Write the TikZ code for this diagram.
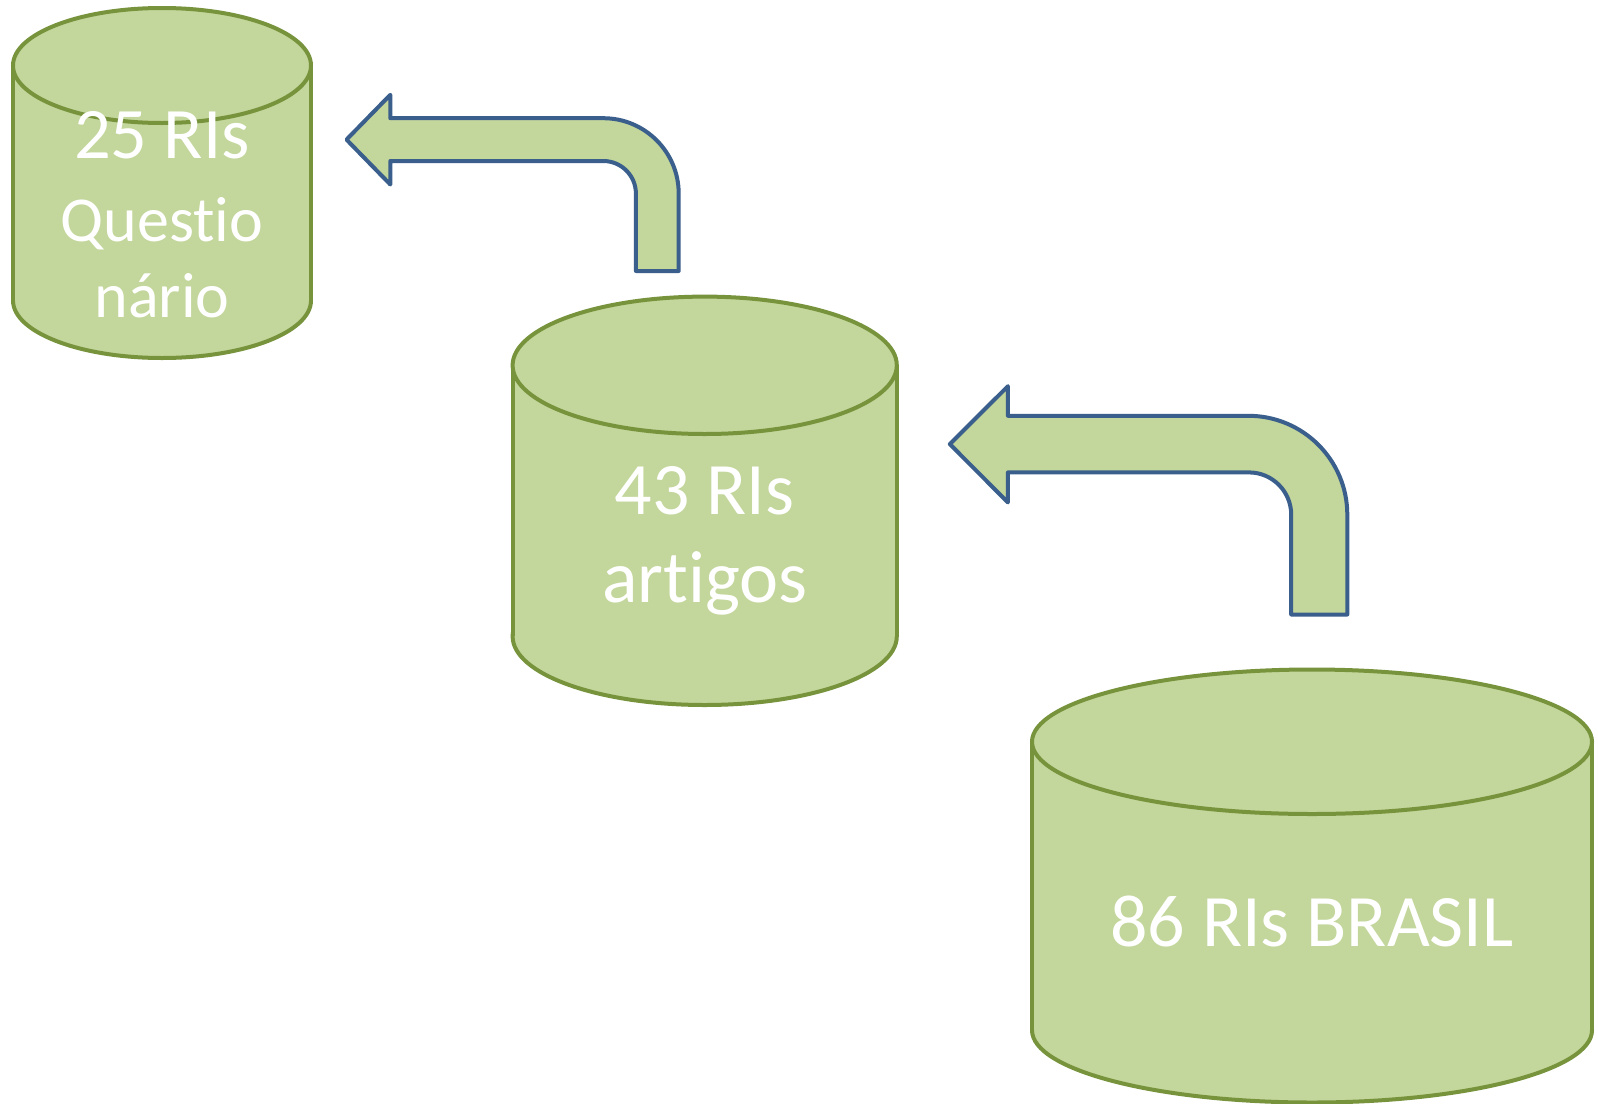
\documentclass[tikz,border=0pt]{standalone}
\usepackage{fontspec}
\setmainfont{Carlito}[Ligatures=NoCommon]
\definecolor{cylfill}{HTML}{C3D69B}
\definecolor{cylline}{HTML}{77933C}
\definecolor{arrline}{HTML}{3A5F8C}
\begin{document}
\begin{tikzpicture}[x=1pt,y=-1pt,
  cylbody/.style={fill=cylfill,draw=cylline,line width=4pt},
  cylfillonly/.style={fill=cylfill},
  cylside/.style={draw=cylline,line width=4pt},
  bendarrow/.style={fill=cylfill,draw=arrline,line width=4pt,line join=round},
  lbl/.style={text=white,anchor=base,inner sep=0pt,font=\fontsize{74}{74}\selectfont},
  lblsmall/.style={text=white,anchor=base,inner sep=0pt,font=\fontsize{72.5}{72.5}\selectfont},
  lblsmaller/.style={text=white,anchor=base,inner sep=0pt,font=\fontsize{64}{64}\selectfont}]
\useasboundingbox (0,0) rectangle (1598,1103);
\fill[white] (0,0) rectangle (1598,1103);

% Cylinder 1: cx 162, rx 149, cy 65.5, ry 57.5, by 300.5
\path[cylbody] (162,300.5) ellipse [x radius=149pt, y radius=57.5pt];
\path[cylfillonly] (13,65.5) rectangle (311,300.5);
\path[cylside] (13,65.5) -- (13,300.5) (311,65.5) -- (311,300.5);
\path[cylbody] (162,65.5) ellipse [x radius=149pt, y radius=57.5pt];

% Cylinder 2: cx 704.7, rx 192.1, cy 365.3, ry 68.7, by 636.3
\path[cylbody] (704.7,636.3) ellipse [x radius=192.1pt, y radius=68.7pt];
\path[cylfillonly] (512.6,365.3) rectangle (896.8,636.3);
\path[cylside] (512.6,365.3) -- (512.6,636.3) (896.8,365.3) -- (896.8,636.3);
\path[cylbody] (704.7,365.3) ellipse [x radius=192.1pt, y radius=68.7pt];

% Cylinder 3: cx 1312, rx 280, cy 741.75, ry 72.25, by 1030.25
\path[cylbody] (1312,1030.25) ellipse [x radius=280pt, y radius=72.25pt];
\path[cylfillonly] (1032,741.75) rectangle (1592,1030.25);
\path[cylside] (1032,741.75) -- (1032,1030.25) (1592,741.75) -- (1592,1030.25);
\path[cylbody] (1312,741.75) ellipse [x radius=280pt, y radius=72.25pt];

% Labels
\node[lblsmall] (t1a) at (162,158) {25 RIs};
\node[lblsmaller] (t1b) at (162,241) {Questio};
\node[lblsmaller] (t1c) at (162,317.5) {nário};
\node[lbl] (t2a) at (704.7,514.6) {43 RIs};
\node[lbl] (t2b) at (704.7,602) {artigos};
\node[lbl] (t3) at (1312,946.7) {86 RIs BRASIL};

% Bent arrows
\draw[bendarrow] (346.5,139.6) -- (390.3,94.8) -- (390.3,118.2) -- (603.3,118.2)
  arc[start angle=90,end angle=0,radius=75.4pt] -- (678.7,271) -- (635.9,271) -- (635.9,193.6)
  arc[start angle=0,end angle=90,radius=32.6pt] -- (390.3,161) -- (390.3,184.5) -- cycle;

\draw[bendarrow] (949.8,444.1) -- (1007.9,386.2) -- (1007.9,415.8) -- (1248.4,415.8)
  arc[start angle=90,end angle=0,radius=98.9pt] -- (1347.3,614.5) -- (1291.2,614.5) -- (1291.2,514.7)
  arc[start angle=0,end angle=90,radius=42.3pt] -- (1007.9,472.4) -- (1007.9,502.4) -- cycle;
\end{tikzpicture}
\end{document}
